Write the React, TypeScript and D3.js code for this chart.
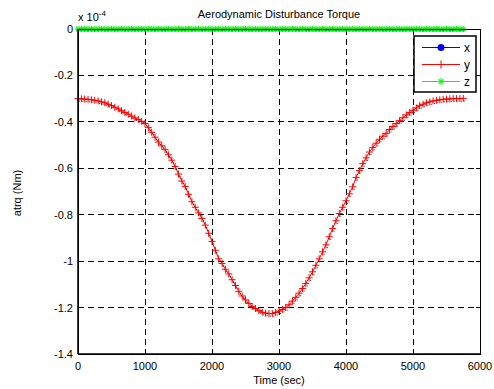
import React from "react";
import * as d3 from "d3";

const times: number[] = [
  0, 50, 100, 150, 200, 250, 300, 350, 400, 450, 500, 550, 600, 650, 700, 750, 800, 850, 900, 950,
  1000, 1050, 1100, 1150, 1200, 1250, 1300, 1350, 1400, 1450, 1500, 1550, 1600, 1650, 1700, 1750, 1800, 1850, 1900, 1950,
  2000, 2050, 2100, 2150, 2200, 2250, 2300, 2350, 2400, 2450, 2500, 2550, 2600, 2650, 2700, 2750, 2800, 2850, 2900, 2950,
  3000, 3050, 3100, 3150, 3200, 3250, 3300, 3350, 3400, 3450, 3500, 3550, 3600, 3650, 3700, 3750, 3800, 3850, 3900, 3950,
  4000, 4050, 4100, 4150, 4200, 4250, 4300, 4350, 4400, 4450, 4500, 4550, 4600, 4650, 4700, 4750, 4800, 4850, 4900, 4950,
  5000, 5050, 5100, 5150, 5200, 5250, 5300, 5350, 5400, 5450, 5500, 5550, 5600, 5650, 5700, 5750,
];

const yTorque: number[] = [
  -0.300, -0.301, -0.302, -0.303, -0.305, -0.307, -0.310, -0.314, -0.318, -0.324, -0.330, -0.337, -0.344, -0.352, -0.360, -0.367, -0.375, -0.383, -0.390, -0.398,
  -0.407, -0.425, -0.445, -0.466, -0.487, -0.503, -0.520, -0.542, -0.565, -0.592, -0.625, -0.655, -0.678, -0.712, -0.744, -0.768, -0.792, -0.816, -0.845, -0.880,
  -0.915, -0.953, -0.990, -1.010, -1.035, -1.055, -1.080, -1.105, -1.130, -1.150, -1.167, -1.182, -1.195, -1.204, -1.213, -1.220, -1.224, -1.226, -1.226, -1.221,
  -1.215, -1.208, -1.200, -1.188, -1.172, -1.156, -1.138, -1.118, -1.096, -1.072, -1.046, -1.018, -0.990, -0.960, -0.930, -0.895, -0.860, -0.826, -0.795, -0.768,
  -0.740, -0.710, -0.680, -0.640, -0.610, -0.580, -0.555, -0.530, -0.510, -0.492, -0.475, -0.462, -0.450, -0.433, -0.420, -0.407, -0.395, -0.382, -0.370, -0.360,
  -0.350, -0.340, -0.330, -0.324, -0.318, -0.314, -0.310, -0.307, -0.305, -0.303, -0.302, -0.301, -0.300, -0.300, -0.300, -0.299,
];

const xTorque: number[] = times.map(() => 0);
const zTorque: number[] = times.map(() => 0);

const xTicks: number[] = [0, 1000, 2000, 3000, 4000, 5000, 6000];
const yTicks: number[] = [0, -0.2, -0.4, -0.6, -0.8, -1, -1.2, -1.4];
const yTickLabels: string[] = ["0", "-0.2", "-0.4", "-0.6", "-0.8", "-1", "-1.2", "-1.4"];
const legendLabels: string[] = ["x", "y", "z"];

const W = 494;
const H = 389;
const M = { left: 78, right: 480, top: 29, bottom: 354 };
const FONT = "Liberation Sans, Arial, sans-serif";

function Asterisk({ cx, cy, s, color }: { cx: number; cy: number; s: number; color: string }) {
  const d = s * 0.707;
  return (
    <g stroke={color} strokeWidth={1.1}>
      <line x1={cx - s} y1={cy} x2={cx + s} y2={cy} />
      <line x1={cx} y1={cy - s} x2={cx} y2={cy + s} />
      <line x1={cx - d} y1={cy - d} x2={cx + d} y2={cy + d} />
      <line x1={cx - d} y1={cy + d} x2={cx + d} y2={cy - d} />
    </g>
  );
}

function Plus({ cx, cy, s, color }: { cx: number; cy: number; s: number; color: string }) {
  return (
    <g stroke={color} strokeWidth={1}>
      <line x1={cx - s} y1={cy} x2={cx + s} y2={cy} />
      <line x1={cx} y1={cy - s} x2={cx} y2={cy + s} />
    </g>
  );
}

export default function App() {
  const x = d3.scaleLinear().domain([0, 6000]).range([M.left, M.right]);
  const y = d3.scaleLinear().domain([-1.4, 0]).range([M.bottom, M.top]);
  const line = d3
    .line<[number, number]>()
    .x((d) => x(d[0]))
    .y((d) => y(d[1]));

  const yPts: [number, number][] = times.map((t, i) => [t, yTorque[i]]);
  const xPts: [number, number][] = times.map((t, i) => [t, xTorque[i]]);
  const zPts: [number, number][] = times.map((t, i) => [t, zTorque[i]]);

  const gridDash = "6,4";
  const lg = { x0: 414, x1: 476, y0: 36, y1: 92 };
  const rowY = [47.5, 64.5, 81.5];

  return (
    <svg width={W} height={H} style={{ display: "block", position: "absolute", left: 0, top: 0, background: "#fff" }} fontFamily={FONT}>
      <rect x={0} y={0} width={W} height={H} fill="#fff" />
      <rect x={M.left} y={M.top} width={M.right - M.left} height={M.bottom - M.top} fill="#fff" />
      {/* grid */}
      {xTicks.slice(1, -1).map((t) => (
        <line key={"gx" + t} x1={x(t)} x2={x(t)} y1={M.top} y2={M.bottom} stroke="#000" strokeWidth={1} strokeDasharray={gridDash} shapeRendering="crispEdges" />
      ))}
      {yTicks.slice(1, -1).map((t) => (
        <line key={"gy" + t} x1={M.left} x2={M.right} y1={y(t)} y2={y(t)} stroke="#000" strokeWidth={1} strokeDasharray={gridDash} shapeRendering="crispEdges" />
      ))}
      {/* ticks */}
      {xTicks.map((t) => (
        <g key={"tx" + t}>
          <line x1={x(t)} x2={x(t)} y1={M.bottom} y2={M.bottom - 4} stroke="#000" shapeRendering="crispEdges" />
          <line x1={x(t)} x2={x(t)} y1={M.top} y2={M.top + 4} stroke="#000" shapeRendering="crispEdges" />
          <text x={x(t)} y={M.bottom + 16} fontSize={11} textAnchor="middle" fill="#000">
            {t}
          </text>
        </g>
      ))}
      {yTicks.map((t, i) => (
        <g key={"ty" + t}>
          <line x1={M.left} x2={M.left + 4} y1={y(t)} y2={y(t)} stroke="#000" shapeRendering="crispEdges" />
          <line x1={M.right} x2={M.right - 4} y1={y(t)} y2={y(t)} stroke="#000" shapeRendering="crispEdges" />
          <text x={M.left - 5} y={y(t) + 4} fontSize={11} textAnchor="end" fill="#000">
            {yTickLabels[i]}
          </text>
        </g>
      ))}
      {/* y series */}
      <path d={line(yPts) || ""} fill="none" stroke="#ff0000" strokeWidth={1} />
      {yPts.map((p, i) => (
        <rect key={"bk" + i} x={x(p[0]) + 1} y={y(p[1]) + 2} width={1} height={1} fill="#000" opacity={0.8} />
      ))}
      {yPts.map((p, i) => (
        <Plus key={"yp" + i} cx={x(p[0])} cy={y(p[1])} s={3.5} color="#ff0000" />
      ))}
      {/* x series */}
      <path d={line(xPts) || ""} fill="none" stroke="#0000ff" strokeWidth={1} />
      {xPts.map((p, i) => (
        <circle key={"xp" + i} cx={x(p[0])} cy={y(p[1]) + 1} r={1.5} fill="#0000ff" />
      ))}
      {/* z series */}
      <path d={line(zPts) || ""} fill="none" stroke="#00ff00" strokeWidth={1} />
      {zPts.map((p, i) => (
        <Asterisk key={"zp" + i} cx={x(p[0])} cy={y(p[1])} s={3} color="#00ff00" />
      ))}
      {/* axes box */}
      <rect x={M.left} y={M.top} width={M.right - M.left} height={M.bottom - M.top} fill="none" stroke="#000" strokeWidth={1} shapeRendering="crispEdges" />
      <line x1={M.left} x2={M.left} y1={M.top} y2={M.bottom} stroke="#000" strokeWidth={1.5} />
      <line x1={M.left} x2={M.right} y1={M.bottom} y2={M.bottom} stroke="#000" strokeWidth={1.5} />
      {/* legend */}
      <rect x={lg.x0} y={lg.y0} width={lg.x1 - lg.x0} height={lg.y1 - lg.y0} fill="#fff" stroke="#000" strokeWidth={1.5} />
      {legendLabels.map((lab, i) => {
        const col = ["#0000ff", "#ff0000", "#00ff00"][i];
        const yy = rowY[i];
        return (
          <g key={"lg" + lab}>
            <line x1={422} x2={460} y1={yy} y2={yy} stroke={col} strokeWidth={1} />
            {i === 0 && <circle cx={441} cy={yy} r={3.5} fill={col} />}
            {i === 1 && <Plus cx={441} cy={yy} s={4} color={col} />}
            {i === 2 && <Asterisk cx={441} cy={yy} s={3.5} color={col} />}
            <text x={464} y={yy + 4} fontSize={12} fill="#000">
              {lab}
            </text>
          </g>
        );
      })}
      {/* labels */}
      <text x={279} y={18} fontSize={11} textAnchor="middle" fill="#000">
        Aerodynamic Disturbance Torque
      </text>
      <text x={78} y={21} fontSize={11} fill="#000">
        x 10
        <tspan dy={-5} fontSize={8}>
          -4
        </tspan>
      </text>
      <text x={279} y={384} fontSize={11} textAnchor="middle" fill="#000">
        Time (sec)
      </text>
      <text transform="translate(21,193) rotate(-90)" fontSize={11} textAnchor="middle" fill="#000">
        atrq (Nm)
      </text>
    </svg>
  );
}
